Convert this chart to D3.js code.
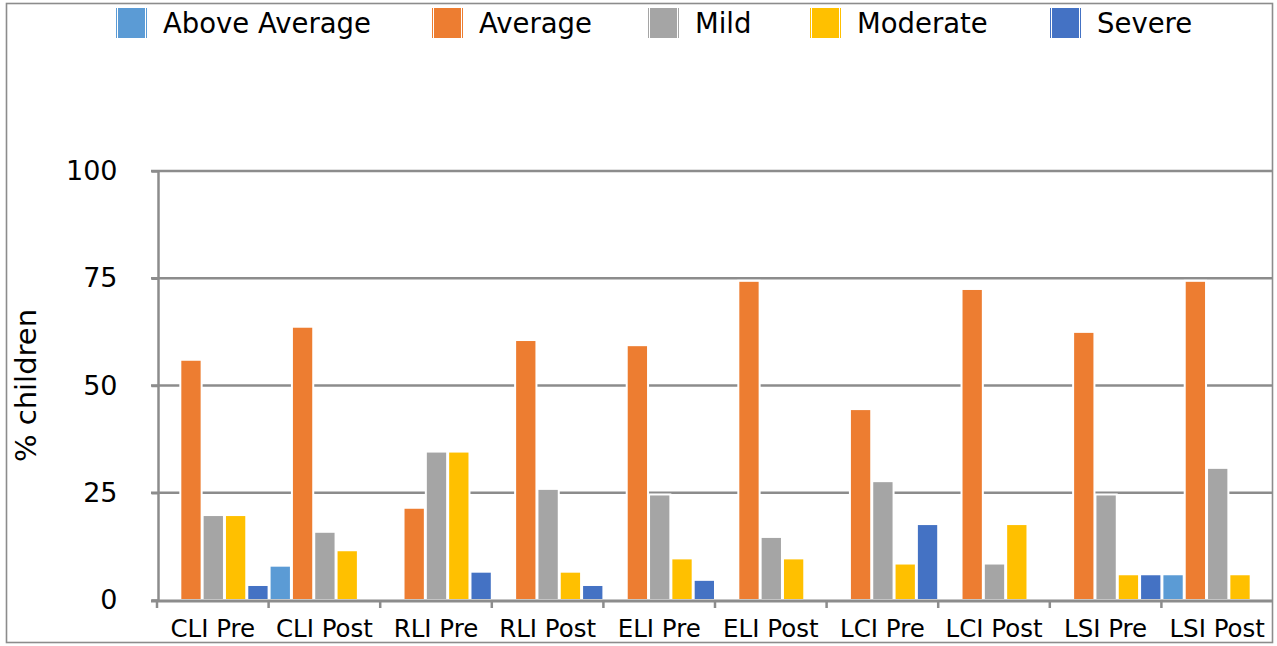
<!DOCTYPE html>
<html>
<head>
<meta charset="utf-8">
<script src="https://cdn.jsdelivr.net/npm/d3@7"></script>
<style>
  html, body { margin: 0; padding: 0; background: #fff; }
  svg { display: block; font-family: "DejaVu Sans", sans-serif; }
</style>
</head>
<body>
<svg id="chart" width="1277" height="646"></svg>
<script>
// Assessment categories (pre / post for each index)
const categories = ["CLI Pre", "CLI Post", "RLI Pre", "RLI Post", "ELI Pre",
                    "ELI Post", "LCI Pre", "LCI Post", "LSI Pre", "LSI Post"];

// Severity bands, drawn left to right inside each category
const seriesNames = ["Above Average", "Average", "Mild", "Moderate", "Severe"];

// % of children in each band, per category
const aboveAverage = [0,   8,    0,    0,    0,    0,    0,    0,    0,    6];
const average      = [56,  63.7, 21.5, 60.6, 59.4, 74.4, 44.5, 72.5, 62.5, 74.4];
const mild         = [19.8, 15.9, 34.6, 25.9, 24.6, 14.7, 27.7, 8.5, 24.6, 30.8];
const moderate     = [19.8, 11.6, 34.6, 6.6, 9.7, 9.7, 8.5, 17.7, 6,   6];
const severe       = [3.5,  0,    6.6,  3.5, 4.7, 0,   17.7, 0,   6,   0];

const yTicks = [0, 25, 50, 75, 100];

const colors = ["#5B9BD5", "#ED7D31", "#A5A5A5", "#FFC000", "#4472C4"];
const seriesValues = [aboveAverage, average, mild, moderate, severe];

const svg = d3.select("#chart");
const gridColor = "#8c8c8c";

// Outer chart border
svg.append("rect")
  .attr("x", 6.5).attr("y", 3.5)
  .attr("width", 1266).attr("height", 639)
  .attr("fill", "none").attr("stroke", gridColor).attr("stroke-width", 1.6);

const x0 = d3.scaleBand().domain(categories).range([157, 1273]).padding(0);
const x1 = d3.scaleBand().domain(seriesNames).range([0, x0.bandwidth()]).padding(0);
const y = d3.scaleLinear().domain([0, 100]).range([600, 171]);

// Horizontal gridlines
svg.append("g").selectAll("line")
  .data(yTicks.filter(d => d > 0))
  .join("line")
  .attr("x1", 151).attr("x2", 1272)
  .attr("y1", d => y(d)).attr("y2", d => y(d))
  .attr("stroke", gridColor).attr("stroke-width", 2.5);

// Y axis
const yAxis = svg.append("g")
  .attr("transform", "translate(158.5,0)")
  .call(d3.axisLeft(y).tickValues(yTicks).tickSize(7).tickPadding(34).tickFormat(d3.format("d")));
yAxis.select(".domain").attr("stroke", gridColor).attr("stroke-width", 2.5)
  .attr("d", `M0,${y(100)}V${y(0) + 1}`);
yAxis.selectAll(".tick line").attr("stroke", gridColor).attr("stroke-width", 2.5);
yAxis.selectAll(".tick text")
  .attr("fill", "#000").attr("font-size", 27)
  .attr("font-family", "DejaVu Sans, sans-serif");

// Bars
const groups = svg.append("g").selectAll("g")
  .data(categories)
  .join("g")
  .attr("transform", d => `translate(${x0(d)},0)`);

groups.selectAll("rect")
  .data((c, i) => seriesNames.map((s, k) => ({ series: s, value: seriesValues[k][i], color: colors[k] })))
  .join("rect")
  .filter(d => d.value > 0)
  .attr("x", d => x1(d.series) + 1)
  .attr("width", x1.bandwidth() - 1)
  .attr("y", d => y(d.value))
  .attr("height", d => y(0) - y(d.value))
  .attr("fill", d => d.color)
  .attr("stroke", "#fff").attr("stroke-width", 2);

// X axis
const xAxis = svg.append("g")
  .attr("transform", `translate(0,${y(0) + 1})`)
  .call(d3.axisBottom(x0).tickSize(0).tickPadding(19));
xAxis.select(".domain").attr("stroke", gridColor).attr("stroke-width", 3)
  .attr("d", "M151,0H1272");
xAxis.selectAll(".tick text")
  .attr("fill", "#000").attr("font-size", 24.5)
  .attr("font-family", "DejaVu Sans, sans-serif");

// Category boundary ticks
svg.append("g").selectAll("line")
  .data(categories)
  .join("line")
  .attr("x1", d => x0(d)).attr("x2", d => x0(d))
  .attr("y1", y(0)).attr("y2", y(0) + 8)
  .attr("stroke", gridColor).attr("stroke-width", 2.5);

// Y axis title
svg.append("text")
  .attr("transform", `translate(36,${(y(0) + y(100)) / 2})rotate(-90)`)
  .attr("text-anchor", "middle")
  .attr("font-size", 29)
  .attr("fill", "#000")
  .text("% children");

// Legend: swatch followed by its label
const legendX = [116, 432, 648, 810, 1050];
const legend = svg.append("g");
seriesNames.forEach((name, k) => {
  const item = legend.append("g").attr("transform", `translate(${legendX[k]},8)`);
  item.append("rect").attr("x", 0).attr("y", 0).attr("width", 31).attr("height", 30)
    .attr("fill", colors[k]);
  item.append("line").attr("x1", 1.5).attr("x2", 1.5).attr("y1", 0).attr("y2", 30)
    .attr("stroke", "#fff").attr("stroke-width", 1);
  item.append("line").attr("x1", 29.5).attr("x2", 29.5).attr("y1", 0).attr("y2", 30)
    .attr("stroke", "#fff").attr("stroke-width", 1);
  item.append("text").attr("x", 47).attr("y", 25)
    .attr("font-size", 27.5).attr("fill", "#000").text(name);
});
</script>
</body>
</html>
